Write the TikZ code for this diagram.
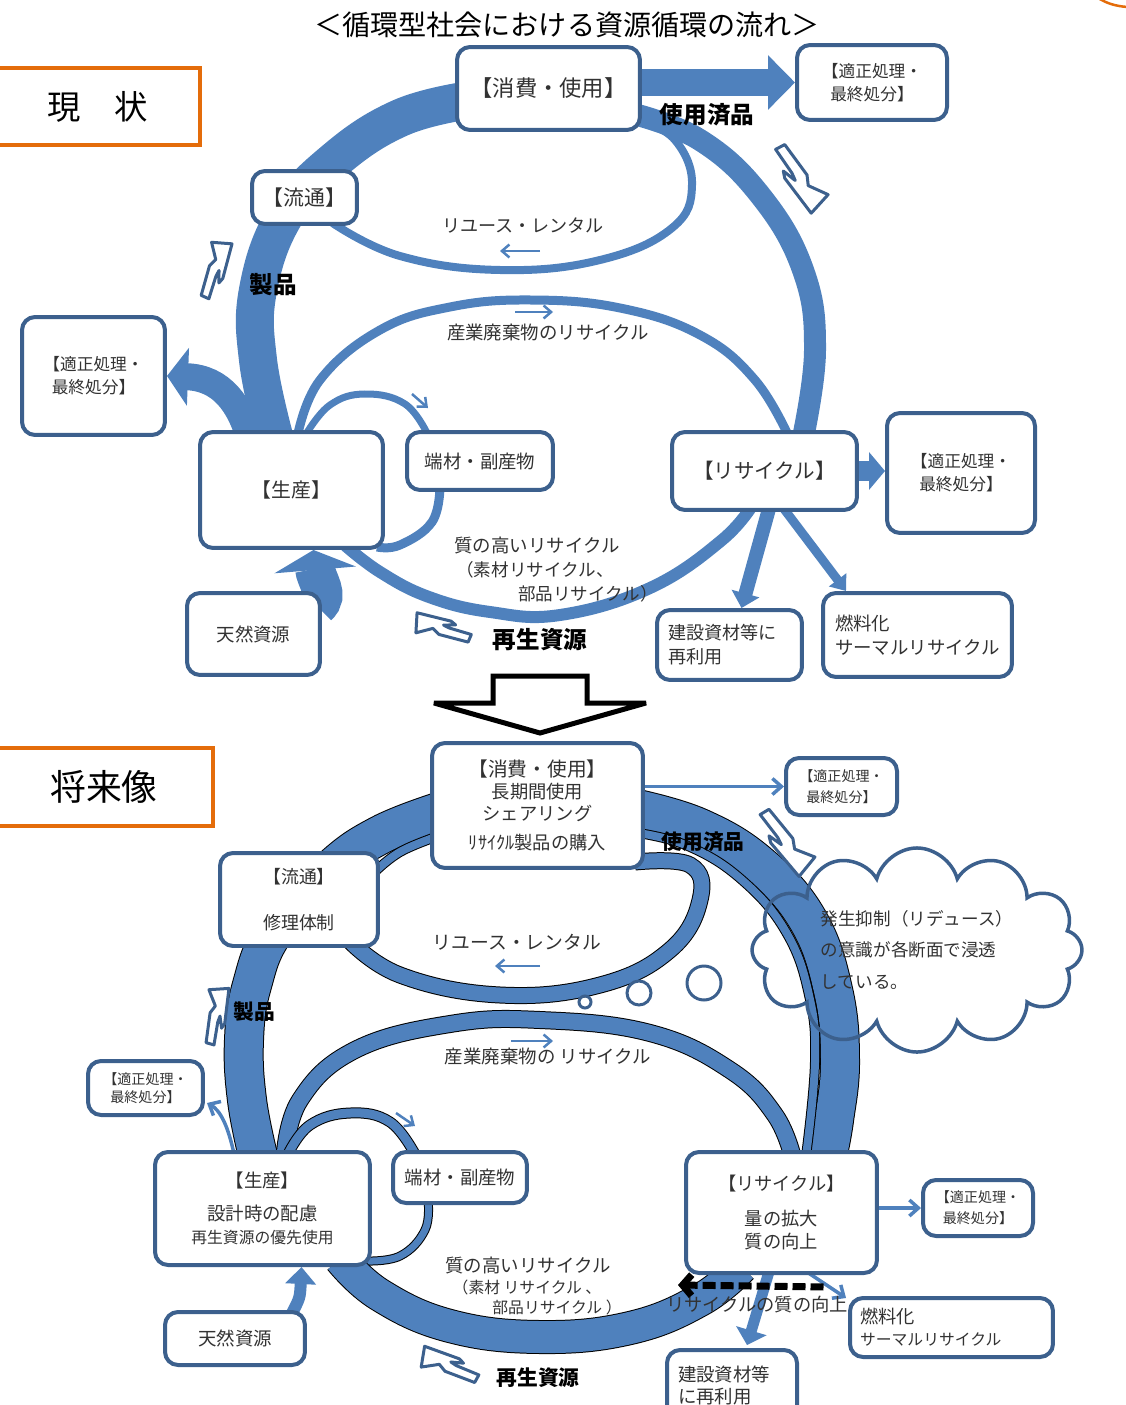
\documentclass[tikz,border=0pt]{standalone}
\usepackage{fontspec}
\setmainfont{Noto Sans CJK JP}
\usetikzlibrary{calc,arrows.meta,shapes.symbols}
\definecolor{ringblue}{RGB}{79,129,189}
\definecolor{boxblue}{RGB}{60,96,141}
\definecolor{textgray}{RGB}{50,50,50}
\definecolor{stageorange}{RGB}{228,108,10}
\pgfdeclarelayer{bg}
\pgfsetlayers{bg,main}

\begin{document}
\begin{tikzpicture}[x=0.02cm, y=-0.02cm,
	box/.style={draw=boxblue, line width=0.08cm, rounded corners=0.26cm, fill=white, text=textgray, inner sep=0pt, align=center},
	stage/.style={draw=stageorange, line width=0.08cm, inner sep=0pt},
	band/.style={draw=ringblue, line width=#1},
	oband/.style 2 args={preaction={draw=black, line width=#2}, draw=ringblue, line width=#1},
	thinarrow/.style={draw=ringblue, line width=0.07cm, -{Straight Barb[length=0.18cm,width=0.32cm]}},
	smallarrow/.style={draw=ringblue, line width=0.05cm, -{Straight Barb[length=0.15cm,width=0.26cm]}},
	keyword/.style={inner sep=0pt, font=\fontsize{#1}{#1}\selectfont\bfseries},
	flowtext/.style={inner sep=0pt, text=textgray, font=\fontsize{#1}{#1}\selectfont},
	bubble/.style={circle, draw=boxblue, line width=0.06cm, inner sep=0pt},
	bolt/.pic={\filldraw[fill=white, draw=boxblue, line width=0.06cm, line join=round] (-28,-11) -- (7,-8) -- (12,-5) -- (0,-3) -- (6,-1) -- (29,2) -- (27,10) -- (-3,7) -- (-10,2) -- (-26,9) -- cycle;}
	]
	
	\useasboundingbox (0,0) rectangle (1125,1405);
	
	%Title
	\node[inner sep=0pt, font=\fontsize{16}{16}\selectfont] (Title) at (567,25) {＜循環型社会における資源循環の流れ＞};
	
	%Stage frames
	\node[stage, minimum width=4.1cm, minimum height=1.54cm, font=\fontsize{19}{19}\selectfont] (State Now) at (97.5,106.5) {現　状};
	\node[stage, minimum width=4.36cm, minimum height=1.56cm, font=\fontsize{20.4}{20.4}\selectfont] (State Future) at (104,787) {将来像};
	\draw[stageorange, line width=0.05cm] (1098,-2) .. controls (1108,4) and (1116,6) .. (1127,7);
	
	%Present cycle boxes
	\node[box, minimum width=3.66cm, minimum height=1.66cm, font=\fontsize{12.7}{15}\selectfont] (Consume Now) at (548.5,88.5) {【消費・使用】};
	\node[box, minimum width=2.1cm, minimum height=1.06cm, font=\fontsize{11.9}{14}\selectfont] (Distribute Now) at (304.5,197.5) {【流通】};
	\node[box, minimum width=3cm, minimum height=1.5cm, font=\fontsize{9.5}{13}\selectfont] (Dispose Top Now) at (872,82.5) {【適正処理・\\最終処分】};
	\node[box, minimum width=2.86cm, minimum height=2.36cm, font=\fontsize{9.5}{13}\selectfont] (Dispose Left Now) at (93.5,376) {【適正処理・\\最終処分】};
	\node[box, minimum width=3.66cm, minimum height=2.32cm, font=\fontsize{11.3}{14}\selectfont] (Produce Now) at (291.5,490) {【生産】};
	\node[box, minimum width=2.92cm, minimum height=1.16cm, font=\fontsize{10.5}{13}\selectfont] (Scrap Now) at (480,461) {端材・副産物};
	\node[box, minimum width=3.7cm, minimum height=1.56cm, font=\fontsize{11.7}{14}\selectfont] (Recycle Now) at (764.5,471) {【リサイクル】};
	\node[box, minimum width=2.96cm, minimum height=2.4cm, font=\fontsize{9.5}{13}\selectfont] (Dispose Right Now) at (961,473) {【適正処理・\\最終処分】};
	\node[box, minimum width=2.66cm, minimum height=1.64cm, font=\fontsize{10.5}{13}\selectfont] (Resource Now) at (253.5,634) {天然資源};
	\node[box, minimum width=2.9cm, minimum height=1.4cm, text width=2.46cm, align=left, font=\fontsize{10.3}{13.6}\selectfont] (Building Now) at (729.5,645) {建設資材等に\\再利用};
	\node[box, minimum width=3.78cm, minimum height=1.68cm, text width=3.3cm, align=left, font=\fontsize{10.5}{13.6}\selectfont] (Fuel Now) at (917.5,635) {燃料化\\サーマルリサイクル};
	
	%Writing along the present flows
	\node[flowtext=10.3] (Reuse Now) at (523,226) {リユース・レンタル};
	\node[flowtext=10.5] (Industry Now) at (548,333) {産業廃棄物のリサイクル};
	\node[flowtext=10.5] (Quality Now A) at (537,546) {質の高いリサイクル};
	\node[flowtext=10] (Quality Now B) at (535,570) {（素材リサイクル、};
	\node[flowtext=10] (Quality Now C) at (588,594) {部品リサイクル）};
	\node[keyword=13.4] (Product Now) at (273,285) {製品};
	\node[keyword=13.4] (Used Now) at (707,115) {使用済品};
	\node[keyword=13.4] (Regen Now) at (540,640) {再生資源};
	\draw[smallarrow] ($(Reuse Now)+(17,25)$) -- ($(Reuse Now)+(-23,25)$);
	\draw[smallarrow] ($(Industry Now)+(-33,-21)$) -- ($(Industry Now)+(5,-21)$);
	\draw[smallarrow] ($(Scrap Now.north)+(-68,-36)$) -- ($(Scrap Now.north)+(-52,-22)$);
	\pic[rotate=-100, scale=1.02] at (216,270) {bolt};
	\pic[rotate=132, scale=1.25] at (798,178) {bolt};
	\pic[rotate=-9] at (443,628) {bolt};
	
	%Present flows
	\begin{pgfonlayer}{bg}
		\draw[band=0.76cm] plot[smooth, tension=0.7] coordinates {($(Produce Now.north)+(-17,8)$) (258,360) (258,290) (285,215) (335,160) (400,118) ($(Consume Now.west)+(12,12)$)};
		\draw[band=0.44cm] plot[smooth, tension=0.7] coordinates {($(Consume Now.east)+(-10,25)$) (700,140) (760,195) (803,270) (815,350) ($(Recycle Now.north)+(38,10)$)};
		\draw[band=0.16cm] plot[smooth, tension=0.7] coordinates {($(Consume Now.east)+(-5,30)$) (675,140) (692,185) (672,228) (600,260) (500,270) (400,256) ($(Distribute Now.south)+(28,-3)$)};
		\draw[band=0.18cm] plot[smooth, tension=0.7] coordinates {($(Produce Now.north)+(6,6)$) (320,380) (380,330) (450,307) (530,300) (620,308) (700,335) (755,380) ($(Recycle Now.north)+(25,8)$)};
		\draw[band=0.14cm] plot[smooth, tension=0.7] coordinates {($(Produce Now.north)+(14,5)$) (330,405) (365,394) (405,404) ($(Scrap Now.north)+(-52,5)$)};
		\draw[band=0.18cm] plot[smooth, tension=0.7] coordinates {($(Scrap Now.south)+(-40,-5)$) (432,522) (400,545) ($(Produce Now.south east)+(-8,-3)$)};
		\draw[band=0.24cm] plot[smooth, tension=0.7] coordinates {($(Produce Now.south)+(52,-6)$) (380,572) (429,597) (490,612) (560,615) (650,588) (722,540) ($(Recycle Now.south)+(-10,-10)$)};
		\draw[band=0.54cm, -{Triangle[length=0.54cm,width=1.06cm]}] (Consume Now.east |- Dispose Top Now.west) -- (Dispose Top Now.west);
		\draw[band=0.54cm, -{Triangle[length=0.42cm,width=1.14cm]}] ($(Produce Now.north)+(-42,8)$) .. controls (240,405) and (222,378) .. (Dispose Left Now.east);
		\draw[band=0.4cm, -{Triangle[length=0.32cm,width=0.74cm]}] (Recycle Now.east) -- (Recycle Now.east -| Dispose Right Now.west);
		\draw[band=0.8cm, -{Triangle[length=0.4cm,width=1.62cm]}] ($(Resource Now.north east)+(-5,15)$) .. controls (330,595) and (316,580) .. ($(Produce Now.south)+(22,0)$);
		\draw[band=0.28cm, -{Triangle[length=0.3cm,width=0.56cm]}] ($(Recycle Now.south)+(5,-5)$) -- ($(Building Now.north)+(12,0)$);
		\draw[band=0.18cm, -{Triangle[length=0.28cm,width=0.42cm]}] ($(Recycle Now.south)+(18,-5)$) -- ($(Fuel Now.north west)+(25,0)$);
	\end{pgfonlayer}
	
	%Arrow between the two cycles
	\draw[line width=0.1cm, miter limit=2, fill=white] (493,676) -- (587,676) -- (587,703) -- (646,703) -- (540,733) -- (434,703) -- (493,703) -- cycle;
	
	%Future cycle boxes
	\node[box, minimum width=4.22cm, minimum height=2.5cm, font=\fontsize{10.4}{12.5}\selectfont] (Consume Future) at (537.5,805.5) {{\fontsize{11.2}{13}\selectfont 【消費・使用】}\\長期間使用\\シェアリング\\[4pt]ﾘｻｲｸﾙ製品の購入};
	\node[box, minimum width=3.16cm, minimum height=1.86cm, font=\fontsize{10.2}{13}\selectfont] (Distribute Future) at (299,899.5) {【流通】\\[13pt]修理体制};
	\node[box, minimum width=2.22cm, minimum height=1.14cm, font=\fontsize{8}{12}\selectfont] (Dispose Top Future) at (841.5,786.5) {【適正処理・\\最終処分】};
	\node[box, minimum width=2.3cm, minimum height=1.08cm, font=\fontsize{8}{10.5}\selectfont] (Dispose Left Future) at (145.5,1088) {【適正処理・\\最終処分】};
	\node[box, minimum width=4.3cm, minimum height=2.26cm, font=\fontsize{10.5}{13}\selectfont] (Produce Future) at (262.5,1208.5) {【生産】\\[5.7pt]設計時の配慮\\{\fontsize{9}{13}\selectfont 再生資源の優先使用}};
	\node[box, minimum width=2.68cm, minimum height=1.02cm, font=\fontsize{10.5}{13}\selectfont] (Scrap Future) at (460,1177.5) {端材・副産物};
	\node[box, minimum width=3.82cm, minimum height=2.42cm, font=\fontsize{10.4}{13}\selectfont] (Recycle Future) at (781.5,1212.5) {【リサイクル】\\[6.8pt]量の拡大\\質の向上};
	\node[box, minimum width=2.2cm, minimum height=1.12cm, font=\fontsize{8}{12}\selectfont] (Dispose Right Future) at (978,1208) {【適正処理・\\最終処分】};
	\node[box, minimum width=2.8cm, minimum height=1.06cm, font=\fontsize{10.5}{13}\selectfont] (Resource Future) at (235,1338.5) {天然資源};
	\node[box, minimum width=4.06cm, minimum height=1.18cm, text width=3.66cm, align=left, font=\fontsize{10.4}{12.5}\selectfont] (Fuel Future) at (951.5,1327.5) {燃料化\\{\fontsize{9}{12.5}\selectfont サーマルリサイクル}};
	\node[box, minimum width=2.6cm, minimum height=1.4cm, text width=2.16cm, align=left, font=\fontsize{10.5}{12.5}\selectfont] (Building Future) at (732,1385) {建設資材等\\に再利用};
	
	%Writing along the future flows
	\node[flowtext=10.7] (Reuse Future) at (517,942) {リユース・レンタル};
	\node[flowtext=10.5] (Industry Future) at (548,1057) {産業廃棄物の リサイクル};
	\node[flowtext=10.5] (Quality Future A) at (528,1265) {質の高いリサイクル};
	\node[flowtext=9] (Quality Future B) at (527,1287) {（素材 リサイクル 、};
	\node[flowtext=9] (Quality Future C) at (557,1307) {部品リサイクル ）};
	\node[flowtext=10.4] (Better Quality) at (757,1305) {リサイクルの質の向上};
	\node[keyword=11.8] (Product Future) at (254,1012) {製品};
	\node[keyword=11.8] (Used Future) at (703,842) {使用済品};
	\node[keyword=11.8] (Regen Future) at (538,1378) {再生資源};
	\draw[smallarrow] ($(Reuse Future)+(23,24)$) -- ($(Reuse Future)+(-22,24)$);
	\draw[smallarrow] ($(Industry Future)+(-37,-16)$) -- ($(Industry Future)+(5,-16)$);
	\draw[smallarrow] ($(Scrap Future.north)+(-64,-37)$) -- ($(Scrap Future.north)+(-45,-24)$);
	\pic[rotate=-92] at (217,1016) {bolt};
	\pic[rotate=135, scale=1.25] at (784,842) {bolt};
	\pic[rotate=-15, scale=1.05] at (450,1365) {bolt};
	
	%Dashed quality arrow
	\coordinate (Quality Left) at (678,1285);
	\draw[line width=0.14cm, dash pattern=on 0.26cm off 0.1cm, -{Straight Barb[length=0.18cm,width=0.42cm]}] ($(Recycle Future.south)+(42,12)$) -- (Quality Left);
	
	%Reduce cloud
	\node[cloud, cloud puffs=12, aspect=1.9, draw=boxblue, line width=0.07cm, minimum width=6.6cm, minimum height=3.5cm, text=textgray, align=left, font=\fontsize{10}{18}\selectfont] (Reduce Cloud) at (917,950) {発生抑制（リデュース）\\の意識が各断面で浸透\\している。};
	\node[bubble, minimum size=0.24cm] (Bubble Small) at (585,1002) {};
	\node[bubble, minimum size=0.48cm] (Bubble Mid) at (639,993) {};
	\node[bubble, minimum size=0.68cm] (Bubble Big) at (704,983) {};
	
	%Future flows
	\begin{pgfonlayer}{bg}
		\draw[oband={0.76cm}{0.8cm}] plot[smooth, tension=0.7] coordinates {($(Produce Future.north)+(-4,8)$) (247,1100) (244,1040) (252,985) (275,930) (330,870) (380,835) ($(Consume Future.west)+(10,6)$)};
		\draw[oband={0.16cm}{0.2cm}] plot[smooth, tension=0.7] coordinates {($(Distribute Future.east)+(-8,-25)$) (400,852) ($(Consume Future.west)+(10,30)$)};
		\draw[oband={0.76cm}{0.8cm}] plot[smooth, tension=0.7] coordinates {($(Consume Future.east)+(-10,3)$) (700,828) (760,865) (808,920) (833,990) (840,1060) (834,1120) ($(Recycle Future.north)+(45,10)$)};
		\draw[oband={0.16cm}{0.2cm}] plot[smooth, tension=0.7] coordinates {($(Consume Future.east)+(-10,27)$) (688,846) (742,880) (786,932) (809,995) (815,1062) ($(Recycle Future.north)+(24,10)$)};
		\draw[oband={0.3cm}{0.34cm}] plot[smooth, tension=0.7] coordinates {($(Distribute Future.south east)+(-33,-10)$) (400,975) (500,995) (600,985) (670,950) (700,900) (690,865) ($(Consume Future.south east)+(-10,-8)$)};
		\draw[oband={0.32cm}{0.36cm}] plot[smooth, tension=0.7] coordinates {($(Produce Future.north)+(22,8)$) (300,1100) (355,1050) (450,1024) (540,1020) (650,1033) (730,1070) (775,1115) ($(Recycle Future.north)+(12,10)$)};
		\draw[oband={0.18cm}{0.22cm}] plot[smooth, tension=0.7] coordinates {($(Produce Future.north)+(25,5)$) (310,1125) (350,1113) (390,1122) ($(Scrap Future.north)+(-44,6)$)};
		\draw[oband={0.14cm}{0.18cm}] plot[smooth, tension=0.7] coordinates {($(Scrap Future.south)+(-32,-5)$) (425,1230) (400,1256) ($(Produce Future.south east)+(-8,-6)$)};
		\draw[oband={0.64cm}{0.68cm}] plot[smooth, tension=0.7] coordinates {($(Produce Future.south)+(78,-8)$) (380,1295) (450,1326) (540,1337) (630,1328) (700,1300) ($(Recycle Future.south)+(-40,-8)$)};
		\draw[thinarrow] ($(Produce Future.north)+(-28,6)$) .. controls (228,1125) and (220,1110) .. ($(Dispose Left Future.east)+(2,15)$);
		\draw[band=0.24cm, -{Triangle[length=0.34cm,width=0.6cm]}] ($(Resource Future.north)+(56,5)$) .. controls (300,1298) .. ($(Produce Future.south)+(39,0)$);
		\draw[band=0.22cm, -{Triangle[length=0.3cm,width=0.62cm]}] ($(Recycle Future.south)+(-12,-5)$) -- ($(Building Future.north)+(15,-3)$);
		\draw[thinarrow] ($(Recycle Future.south)+(27,-2)$) -- ($(Fuel Future.north west)+(-2,2)$);
		\draw[thinarrow] (Consume Future.east |- Dispose Top Future.west) -- (Dispose Top Future.west);
		\draw[thinarrow] (Recycle Future.east |- Dispose Right Future.west) -- (Dispose Right Future.west);
	\end{pgfonlayer}
	
\end{tikzpicture}
\end{document}
